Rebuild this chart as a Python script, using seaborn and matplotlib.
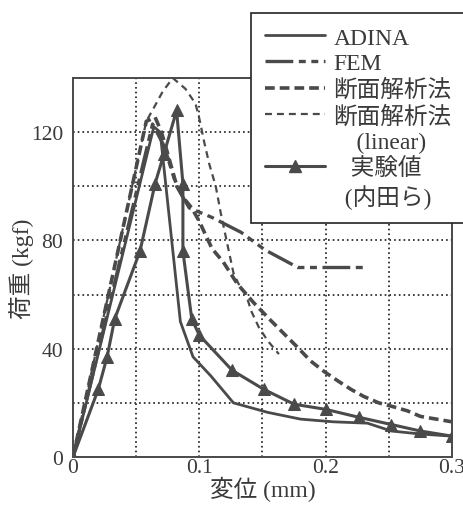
import matplotlib
matplotlib.use("Agg")
import matplotlib.pyplot as plt
from matplotlib.lines import Line2D
import seaborn as sns

# ---- data ----
adina_x = [0, 0.064, 0.069, 0.085, 0.095, 0.109, 0.127, 0.154, 0.18, 0.206, 0.233, 0.252, 0.275, 0.3]
adina_y = [0, 122, 120, 50, 37, 30, 20, 16.5, 14, 13, 12.5, 9.6, 8.5, 7.7]

fem_x = [0, 0.063, 0.072, 0.082, 0.092, 0.11, 0.133, 0.152, 0.178, 0.233]
fem_y = [0, 123, 115, 100, 92, 88.5, 83, 76.5, 70, 70]

dan_x = [0, 0.058, 0.065, 0.07, 0.075, 0.081, 0.087, 0.094, 0.1, 0.11, 0.119, 0.13, 0.143,
         0.156, 0.166, 0.178, 0.188, 0.199, 0.21, 0.22, 0.23, 0.242, 0.254, 0.265, 0.275, 0.285, 0.3]
dan_y = [0, 124, 125.5, 120, 112, 102, 96, 92, 87, 77, 72, 64, 57,
         50.7, 46, 40.4, 35.5, 31.5, 28, 25, 22.4, 20, 18.5, 17, 15, 14.2, 13]

lin_x = [0, 0.058, 0.064, 0.071, 0.079, 0.089, 0.097, 0.1, 0.104, 0.108, 0.113, 0.117, 0.122,
         0.127, 0.131, 0.137, 0.141, 0.147, 0.154, 0.163]
lin_y = [0, 124, 129, 135, 140, 136, 130.5, 125, 116, 108, 100, 90, 79,
         68, 64, 60, 54, 48, 43, 38]

exp_x = [0, 0.02, 0.027, 0.033, 0.053, 0.065, 0.072, 0.082, 0.087, 0.087, 0.094, 0.1, 0.126,
         0.151, 0.175, 0.2, 0.226, 0.252, 0.275, 0.3]
exp_y = [0, 25, 37, 51, 76, 101, 112, 128, 101, 76, 51, 45, 32,
         25, 19.5, 17.6, 14.7, 12, 9.6, 7.7]

x_ticks = [0, 0.1, 0.2, 0.3]
x_ticklabels = ["0", "0.1", "0.2", "0.3"]
y_ticks = [0, 40, 80, 120]
y_ticklabels = ["0", "40", "80", "120"]

labels = ["ADINA", "FEM", "断面解析法", "断面解析法", "(linear)", "実験値", "(内田ら)"]
xlabel = "変位 (mm)"
ylabel = "荷重 (kgf)"

# ---- style ----
sns.set_style("white")
plt.rcParams["font.family"] = ["Liberation Serif", "Noto Sans CJK JP"]
plt.rcParams["lines.scale_dashes"] = False

C = "#4a4a4a"
T = "#3a3a3a"

fig = plt.figure(figsize=(4.64, 5.06), dpi=100)
ax = fig.add_axes([73 / 464, 48 / 506, 379 / 464, 379 / 506])

sty_adina = dict(color=C, lw=2.0, linestyle="-")
sty_fem = dict(color=C, lw=2.4, linestyle=(0, (20, 4, 5, 4, 5, 4)))
sty_dan = dict(color=C, lw=2.6, linestyle=(0, (7, 3.6)))
sty_lin = dict(color=C, lw=1.6, linestyle=(0, (5, 3.6)))
sty_exp = dict(color=C, lw=2.2, linestyle="-", marker="^", markersize=8.5, markeredgecolor=C)

sns.lineplot(x=lin_x, y=lin_y, ax=ax, sort=False, estimator=None, **sty_lin)
sns.lineplot(x=dan_x, y=dan_y, ax=ax, sort=False, estimator=None, **sty_dan)
sns.lineplot(x=fem_x, y=fem_y, ax=ax, sort=False, estimator=None, **sty_fem)
sns.lineplot(x=adina_x, y=adina_y, ax=ax, sort=False, estimator=None, **sty_adina)
sns.lineplot(x=exp_x, y=exp_y, ax=ax, sort=False, estimator=None, **sty_exp)

ax.set_xlim(0, 0.3)
ax.set_ylim(0, 140)
ax.set_xticks(x_ticks)
ax.set_xticklabels(x_ticklabels)
ax.set_yticks(y_ticks)
ax.set_yticklabels(y_ticklabels)
ax.set_xticks([0.05, 0.15, 0.25], minor=True)
ax.set_yticks([20, 60, 100, 140], minor=True)
ax.grid(True, which="both", color="#3a3a3a", linestyle=(0, (1.2, 2.2)), lw=1.4)
ax.tick_params(axis="both", which="both", direction="in", length=3, color=C,
               labelsize=15.5, labelcolor=T)
ax.tick_params(axis="x", pad=1)
ax.tick_params(axis="y", pad=7)
for s in ax.spines.values():
    s.set_color(C)
    s.set_linewidth(1.4)

ax.set_xlabel(xlabel, fontsize=17, color=T, labelpad=-1)
ax.set_ylabel(ylabel, fontsize=17, color=T, labelpad=-2)

# ---- legend ----
blank = Line2D([], [], linestyle="none")
handles = [Line2D([], [], **sty_adina), Line2D([], [], **sty_fem), Line2D([], [], **sty_dan),
           Line2D([], [], **sty_lin), blank, Line2D([], [], **sty_exp), blank]
texts = [labels[0], labels[1], labels[2], labels[3], "    " + labels[4],
         "   " + labels[5], "  " + labels[6]]
leg = fig.legend(handles, texts, loc="upper left", bbox_to_anchor=(251 / 464, 1 - 14 / 506),
                 frameon=True, fancybox=False, edgecolor="#222222", framealpha=1,
                 fontsize=17, labelspacing=0.18, handlelength=2.55, handletextpad=0.34,
                 borderpad=0.6, numpoints=1, borderaxespad=0)
leg.get_frame().set_linewidth(1.2)
for t in leg.get_texts():
    t.set_color(T)

fig.savefig("out.png", dpi=100)
